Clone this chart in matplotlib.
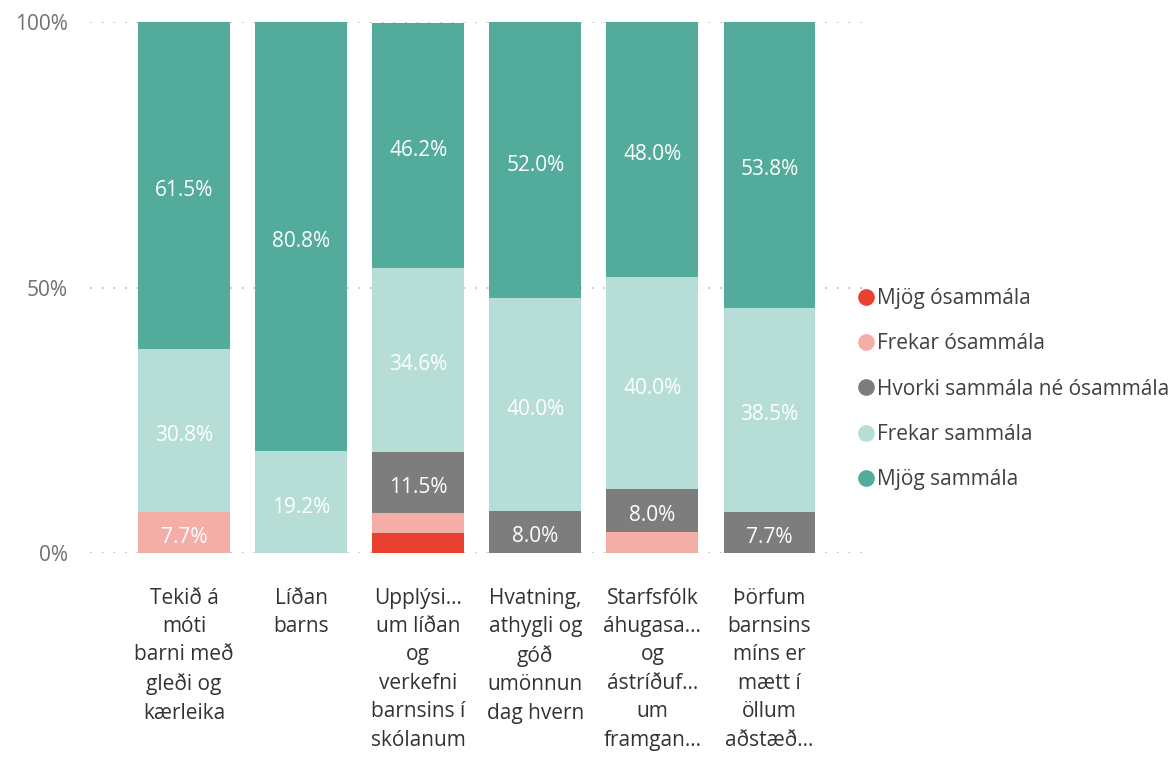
import matplotlib
matplotlib.use("Agg")
import matplotlib.pyplot as plt
from matplotlib.lines import Line2D
from matplotlib.transforms import offset_copy
import numpy as np

plt.rcParams['font.family'] = ['Open Sans', 'DejaVu Sans']

categories = [
    "Tekið á\nmóti\nbarni með\ngleði og\nkærleika",
    "Líðan\nbarns",
    "Upplýsi...\num líðan\nog\nverkefni\nbarnsins í\nskólanum",
    "Hvatning,\nathygli og\ngóð\numönnun\ndag hvern",
    "Starfsfólk\náhugasa...\nog\nástríðuf...\num\nframgan...",
    "Þörfum\nbarnsins\nmíns er\nmætt í\nöllum\naðstæð...",
]
series_names = ["Mjög ósammála", "Frekar ósammála", "Hvorki sammála né ósammála",
                "Frekar sammála", "Mjög sammála"]
mjog_osammala = [0.0, 0.0, 3.8, 0.0, 0.0, 0.0]
frekar_osammala = [7.7, 0.0, 3.8, 0.0, 4.0, 0.0]
hvorki = [0.0, 0.0, 11.5, 8.0, 8.0, 7.7]
frekar_sammala = [30.8, 19.2, 34.6, 40.0, 40.0, 38.5]
mjog_sammala = [61.5, 80.8, 46.2, 52.0, 48.0, 53.8]
y_ticks = [0, 50, 100]
y_ticklabels = ["0%", "50%", "100%"]

series = [mjog_osammala, frekar_osammala, hvorki, frekar_sammala, mjog_sammala]
colors = ["#E8412F", "#F5ADA8", "#7D7D7D", "#B7DDD7", "#52AB9B"]

fig = plt.figure(figsize=(11.68, 7.63), dpi=100)
ax = fig.add_axes([90 / 1168, 1 - 553 / 763, (862 - 90) / 1168, (553 - 22) / 763])

label_tr = offset_copy(ax.transData, fig=fig, x=0, y=-5, units="dots")

x = np.arange(len(categories))
bottom = np.zeros(len(categories))
for name, vals, col in zip(series_names, series, colors):
    vals = np.array(vals)
    ax.bar(x, vals, bottom=bottom, width=0.785, color=col, label=name, zorder=2)
    for xi, v, b in zip(x, vals, bottom):
        if v >= 6:
            ax.text(xi, b + v / 2, f"{v:.1f}%", ha="center", va="center",
                    color="white", fontsize=15, zorder=3, transform=label_tr)
    bottom += vals

ax.set_xlim(-0.803, 5.79)
ax.set_ylim(0, 100)
ax.set_yticks(y_ticks)
ax.set_yticklabels(y_ticklabels, color="#707070", fontsize=15)
for yv in y_ticks:
    ax.axhline(yv, color="#C8C8C8", linestyle=(0, (1, 5)), linewidth=1.4, zorder=1)
ax.set_xticks(x)
ax.set_xticklabels(categories, fontsize=15, color="#333333", linespacing=1.46, va="top")
ax.tick_params(axis="both", length=0)
ax.tick_params(axis="x", pad=25)
ax.tick_params(axis="y", pad=16)
for s in ax.spines.values():
    s.set_visible(False)

handles = [Line2D([0], [0], marker="o", linestyle="none", markersize=11,
                  markerfacecolor=c, markeredgecolor=c) for c in colors]
fig.legend(handles, series_names, loc="upper left",
           bbox_to_anchor=(858 / 1168, 1 - 288 / 763), frameon=False,
           fontsize=15, labelcolor="#404040", handletextpad=0.1,
           handlelength=0.8, labelspacing=1.17, borderaxespad=0, borderpad=0)

fig.savefig("out.png", dpi=100)
